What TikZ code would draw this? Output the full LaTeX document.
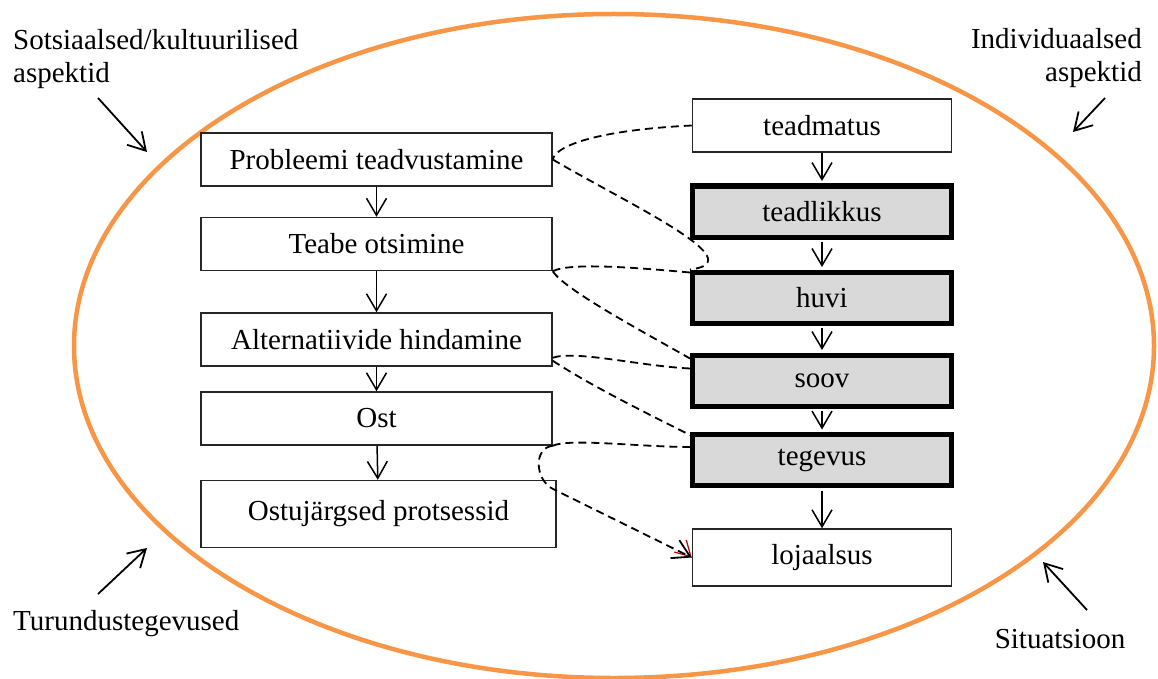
\documentclass[tikz,border=0pt]{standalone}
\usepackage{fontspec}
\setmainfont{Liberation Serif}
\usetikzlibrary{arrows.meta,calc}
\definecolor{ringorange}{HTML}{F79646}
\definecolor{stagegray}{HTML}{D9D9D9}
\begin{document}
\begin{tikzpicture}[x=1pt,y=-1pt,
  font=\fontsize{29}{33}\selectfont,
  >={Straight Barb[length=17pt,width=20pt]},
  stagebox/.style={draw=black!85, line width=1.5pt, inner sep=0pt,
    minimum width=351pt, minimum height=53pt},
  levelbox/.style={draw=black!85, line width=1.5pt, inner sep=0pt,
    minimum width=259pt, minimum height=53pt},
  keybox/.style={draw=black, fill=stagegray, line width=5pt, inner sep=0pt,
    minimum width=259pt, minimum height=51pt},
  flow/.style={->, line width=1.5pt},
  link/.style={line width=1.8pt, dash pattern=on 8pt off 5pt},
  pointer/.style={->, line width=1.8pt},
  sidelabel/.style={inner sep=0pt}]

\path[use as bounding box] (0,0) rectangle (1158,679);

% surrounding context ring
\draw[ringorange, line width=4.5pt] (614,346) ellipse [x radius=540, y radius=332];

% decision process stages
\node[stagebox] (p1) at (376.5,159.5) {Probleemi teadvustamine};
\node[stagebox] (p2) at (376.5,244) {Teabe otsimine};
\node[stagebox] (p3) at (376.5,339.5) {Alternatiivide hindamine};
\node[stagebox] (p4) at (376.5,418.5) {Ost};
\node[stagebox, minimum width=355pt, minimum height=67pt] (p5) at (378.5,514) {Ostujärgsed protsessid};

% hierarchy of effects
\node[levelbox] (r1) at (822,125.5) {teadmatus};
\node[keybox] (r2) at (822,211.5) {teadlikkus};
\node[keybox] (r3) at (822,297.5) {huvi};
\node[keybox] (r4) at (822,380.5) {soov};
\node[keybox] (r5) at (822,460) {tegevus};
\node[levelbox, minimum height=57pt] (l6) at (822,557.5) {lojaalsus};

\draw[flow] (p1) -- (p2);
\draw[flow] (p2) -- (p3);
\draw[flow] (p3) -- (p4);
\draw[flow] (p4) -- (p5);

\draw[flow, shorten >=2.5pt] (r1) -- (r2);
\draw[flow, shorten <=2.5pt, shorten >=2.5pt] (r2) -- (r3);
\draw[flow, shorten <=2.5pt, shorten >=2.5pt] (r3) -- (r4);
\draw[flow, shorten <=2.5pt, shorten >=2.5pt] (r4) -- (r5);
\draw[flow, shorten <=2.5pt] (r5) -- (l6);

% correspondences between the two sequences
\draw[link] (r1.west) .. controls (600,130) and (556,145) .. (p1.east);
\draw[link] (p1.east) .. controls (630,205) and (755,262) .. (r3.north west);
\draw[link] (p2.south east) .. controls (570,262) and (640,268) .. ($(r3.north west)+(0,3)$);
\draw[link] (p2.south east) .. controls (565,290) and (640,330) .. ($(r4.north west)+(0,6)$);
\draw[link] ($(p3.south east)+(0,-9)$) .. controls (575,350) and (640,366) .. ($(r4.west)+(0,-12)$);
\draw[link] ($(p3.south east)+(0,-6)$) .. controls (590,385) and (640,410) .. ($(r5.north west)+(0,3)$);
\draw[link] (p4.south east) .. controls (570,438) and (640,447) .. ($(r5.north west)+(0,15)$);
\draw[red!75!black, line width=1.2pt, -{Straight Barb[length=15pt,width=17pt]}]
  ($(l6.west)+(-4,-4)$) -- (l6.west);
\draw[link, ->] (p4.south east) .. controls (533,448) and (535,480) .. (553,489) -- (l6.west);

% outside influences
\node[sidelabel, anchor=base west, align=left] (s1) at (13,83)
  {Sotsiaalsed/kultuurilised\\aspektid};
\node[sidelabel, anchor=base east, align=right] (s2) at (1142,82)
  {Individuaalsed\\aspektid};
\node[sidelabel, anchor=base west] (s3) at (13,630) {Turundustegevused};
\node[sidelabel, anchor=base] (s4) at (1060,648) {Situatsioon};

\coordinate (s1a) at (98,98);   \coordinate (s1b) at (147,152);
\coordinate (s2a) at (1105,98); \coordinate (s2b) at (1073,132);
\coordinate (s3a) at (98,594);  \coordinate (s3b) at (147,548);
\coordinate (s4a) at (1087,610);\coordinate (s4b) at (1043,562);
\draw[pointer] (s1a) -- (s1b);
\draw[pointer] (s2a) -- (s2b);
\draw[pointer] (s3a) -- (s3b);
\draw[pointer] (s4a) -- (s4b);
\end{tikzpicture}
\end{document}
